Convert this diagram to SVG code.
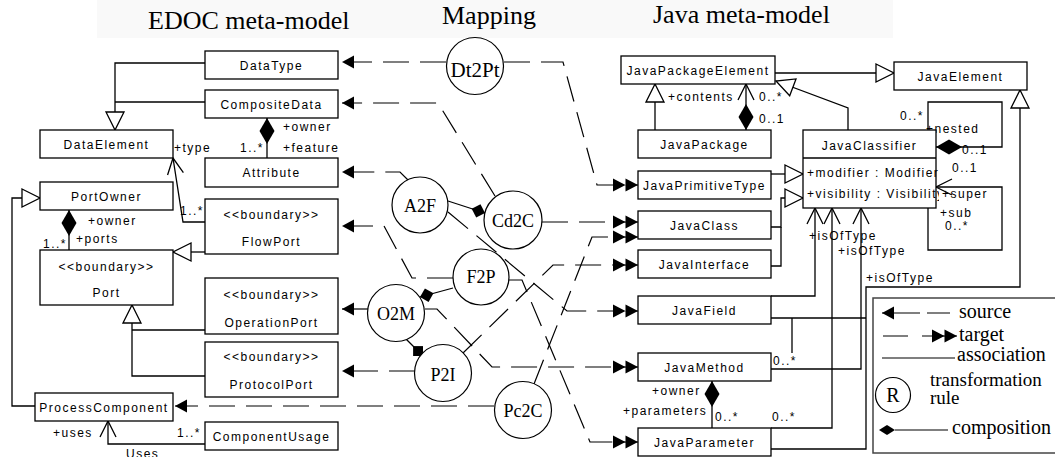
<svg xmlns="http://www.w3.org/2000/svg" width="1055" height="457" viewBox="0 0 1055 457">
<style>
.bx{fill:#fff;stroke:#000;stroke-width:1.3}
.t{font-family:"Liberation Sans",Arial,sans-serif;font-size:12px;letter-spacing:1.5px;fill:#000}
.c{text-anchor:middle}
.ttl{font-family:"Liberation Serif","Times New Roman",serif;font-size:26px;fill:#000}
.rule{fill:#fff;stroke:#000;stroke-width:1.2}
.rt{font-family:"Liberation Serif","Times New Roman",serif;font-size:18px;text-anchor:middle;fill:#000}
.uml{fill:none;stroke:#000;stroke-width:1.3}
.map{fill:none;stroke:#000;stroke-width:1.2;stroke-dasharray:26 11}
.sol{fill:none;stroke:#000;stroke-width:1.2}
.lg{font-family:"Liberation Serif","Times New Roman",serif;font-size:20px;fill:#000}
</style>
<defs>
  <marker id="gen" markerUnits="userSpaceOnUse" markerWidth="20" markerHeight="20" refX="18" refY="9" orient="auto" overflow="visible">
    <path d="M0,0 L18,9 L0,18 Z" fill="#fff" stroke="#000" stroke-width="1.3"/>
  </marker>
  <marker id="nav" markerUnits="userSpaceOnUse" markerWidth="18" markerHeight="18" refX="16" refY="8" orient="auto" overflow="visible">
    <path d="M0,0 L16,8 L0,16" fill="none" stroke="#000" stroke-width="1.3"/>
  </marker>
  <marker id="comp" markerUnits="userSpaceOnUse" markerWidth="28" markerHeight="16" refX="26" refY="7.5" orient="auto" overflow="visible">
    <path d="M0,7.5 L13,0 L26,7.5 L13,15 Z" fill="#000"/>
  </marker>
  <marker id="compS" markerUnits="userSpaceOnUse" markerWidth="28" markerHeight="16" refX="0" refY="7.5" orient="auto" overflow="visible">
    <path d="M0,7.5 L13,0 L26,7.5 L13,15 Z" fill="#000"/>
  </marker>
  <marker id="src" markerUnits="userSpaceOnUse" markerWidth="14" markerHeight="14" refX="12" refY="6.5" orient="auto" overflow="visible">
    <path d="M0,0 L12,6.5 L0,13 Z" fill="#000"/>
  </marker>
  <marker id="tgt" markerUnits="userSpaceOnUse" markerWidth="26" markerHeight="14" refX="25" refY="6.5" orient="auto" overflow="visible">
    <path d="M0,0 L12.5,6.5 L0,13 Z M12.5,0 L25,6.5 L12.5,13 Z" fill="#000"/>
  </marker>
  <marker id="own" markerUnits="userSpaceOnUse" markerWidth="16" markerHeight="16" refX="14" refY="7" orient="auto" overflow="visible">
    <path d="M0,7 L7,0 L14,7 L7,14 Z" fill="#000"/>
  </marker>
  <clipPath id="jcClip"><rect x="803" y="130" width="136" height="78"/></clipPath>
</defs>

<rect x="97" y="0" width="796" height="38" fill="#f9f9f9"/>

<!-- headings -->
<g id="titles">
  <text class="ttl" x="148" y="29">EDOC meta-model</text>
  <text class="ttl" x="442" y="24">Mapping</text>
  <text class="ttl" x="653" y="23">Java meta-model</text>
</g>

<!-- all connectors -->
<g id="connectors">
  <!-- EDOC meta-model relations -->
  <path class="uml" d="M205,63 H115 V130" marker-end="url(#gen)"/>
  <path class="uml" d="M205,102 H115"/>
  <path class="uml" d="M267,158 V118" marker-end="url(#comp)"/>
  <path class="uml" d="M205,222 H183 L173,158" marker-end="url(#nav)"/>
  <path class="uml" d="M35,406 H12 V198 H40" marker-end="url(#gen)"/>
  <path class="uml" d="M69,250 V210" marker-end="url(#comp)"/>
  <path class="uml" d="M205,252 H173" marker-end="url(#gen)"/>
  <path class="uml" d="M205,376 H132 V305" marker-end="url(#gen)"/>
  <path class="uml" d="M205,330 H132"/>
  <path class="uml" d="M205,444 H108 V421" marker-end="url(#nav)"/>

  <!-- Java meta-model relations -->
  <path class="uml" d="M655,130 V84" marker-end="url(#gen)"/>
  <path class="uml" d="M746,130 V84" marker-start="url(#compS)" marker-end="url(#nav)"/>
  <path class="uml" d="M775,73 H894" marker-end="url(#gen)"/>
  <path class="uml" d="M848,130 V108 L776,81" marker-end="url(#gen)"/>
  <path class="uml" d="M771,449 H866 V287 H1020 V90" marker-end="url(#gen)"/>
  <path class="uml" d="M771,318 H866"/>
  <path class="uml" d="M792,353 V318"/>
  <path class="uml" d="M771,296 H815 V208" marker-end="url(#nav)"/>
  <path class="uml" d="M771,428 H832 V208" marker-end="url(#nav)"/>
  <path class="uml" d="M771,369 H861 V208" marker-end="url(#nav)"/>
  <path class="uml" d="M712,428 V381" marker-end="url(#comp)"/>
  <path class="uml" d="M771,174 H803" marker-end="url(#gen)"/>
  <path class="uml" d="M771,227 H781 V198 H803" marker-end="url(#gen)"/>
  <path class="uml" d="M771,266 H781 V227"/>
  <path class="uml" d="M928,130 V102 H1002 V147 H936" marker-end="url(#comp)"/>
  <path class="uml" d="M928,208 V250 H1002 V187 H936" marker-end="url(#nav)"/>

  <!-- rule sources -->
  <path class="map" d="M446,62 H342" marker-end="url(#src)"/>
  <path class="map" d="M495,196 L438,103 H342" marker-end="url(#src)"/>
  <path class="map" d="M408,180 L400,172 H342" marker-end="url(#src)"/>
  <path class="map" d="M453,278 H412 L384,226 H342" marker-end="url(#src)"/>
  <path class="sol" d="M368,309 H342" marker-end="url(#src)"/>
  <path class="map" d="M415,371 H342" marker-end="url(#src)"/>
  <path class="map" d="M494,406 H175" marker-end="url(#src)"/>

  <!-- rule targets -->
  <path class="map" d="M504,62 H563 L597,185 H638" marker-end="url(#tgt)"/>
  <path class="map" d="M542,222 H638" marker-end="url(#tgt)"/>
  <path class="map" d="M448,212 L567,311 H638" marker-end="url(#tgt)"/>
  <path class="map" d="M509,280 H522 L590,442 H638" marker-end="url(#tgt)"/>
  <path class="map" d="M425,309 H437 L492,367 H638" marker-end="url(#tgt)"/>
  <path class="map" d="M463,353 L553,265 H638" marker-end="url(#tgt)"/>
  <path class="map" d="M534,384 L592,237 H638" marker-end="url(#tgt)"/>

  <!-- rule compositions -->
  <path class="sol" d="M448,201 L485,213" marker-end="url(#own)"/>
  <path class="sol" d="M453,288 L420,297" marker-end="url(#own)"/>
  <path class="sol" d="M406,339 L423,356" marker-end="url(#own)"/>
</g>

<!-- association end labels -->
<g id="labels" class="t">
  <text x="283" y="131">+owner</text>
  <text x="283" y="152">+feature</text>
  <text x="240" y="152">1..*</text>
  <text x="174" y="152">+type</text>
  <text x="180" y="215">1..*</text>
  <text x="88" y="225">+owner</text>
  <text x="76" y="243">+ports</text>
  <text x="43" y="248">1..*</text>
  <text x="53" y="437">+uses</text>
  <text x="177" y="437">1..*</text>
  <text x="126" y="458">Uses</text>
  <text x="668" y="101">+contents</text>
  <text x="759" y="101">0..*</text>
  <text x="759" y="123">0..1</text>
  <text x="900" y="120">0..*</text>
  <text x="926" y="133">+nested</text>
  <text x="962" y="154">0..1</text>
  <text x="952" y="172">0..1</text>
  <text x="942" y="198">+super</text>
  <text x="940" y="217">+sub</text>
  <text x="945" y="230">0..*</text>
  <text x="809" y="240">+isOfType</text>
  <text x="838" y="255">+isOfType</text>
  <text x="866" y="282">+isOfType</text>
  <text x="773" y="365">0..*</text>
  <text x="652" y="395">+owner</text>
  <text x="623" y="415">+parameters</text>
  <text x="715" y="421">0..*</text>
  <text x="772" y="421">0..*</text>
</g>

<!-- EDOC classes -->
<g id="DataType"><rect class="bx" x="205" y="51" width="133" height="28"/><text class="t c" x="271.5" y="70">DataType</text></g>
<g id="CompositeData"><rect class="bx" x="205" y="90" width="133" height="28"/><text class="t c" x="271.5" y="109">CompositeData</text></g>
<g id="DataElement"><rect class="bx" x="40" y="130" width="133" height="28"/><text class="t c" x="106.5" y="149">DataElement</text></g>
<g id="Attribute"><rect class="bx" x="205" y="158" width="133" height="29"/><text class="t c" x="271.5" y="177">Attribute</text></g>
<g id="PortOwner"><rect class="bx" x="40" y="182" width="133" height="28"/><text class="t c" x="106.5" y="201">PortOwner</text></g>
<g id="FlowPort"><rect class="bx" x="205" y="199" width="133" height="55"/><text class="t c" x="271.5" y="219">&lt;&lt;boundary&gt;&gt;</text><text class="t c" x="271.5" y="246">FlowPort</text></g>
<g id="Port"><rect class="bx" x="40" y="250" width="133" height="55"/><text class="t c" x="106.5" y="271">&lt;&lt;boundary&gt;&gt;</text><text class="t c" x="106.5" y="297">Port</text></g>
<g id="OperationPort"><rect class="bx" x="205" y="278" width="133" height="56"/><text class="t c" x="271.5" y="299">&lt;&lt;boundary&gt;&gt;</text><text class="t c" x="271.5" y="327">OperationPort</text></g>
<g id="ProtocolPort"><rect class="bx" x="205" y="342" width="133" height="55"/><text class="t c" x="271.5" y="361">&lt;&lt;boundary&gt;&gt;</text><text class="t c" x="271.5" y="389">ProtocolPort</text></g>
<g id="ProcessComponent"><rect class="bx" x="35" y="393" width="138" height="28"/><text class="t c" x="104" y="412">ProcessComponent</text></g>
<g id="ComponentUsage"><rect class="bx" x="205" y="422" width="133" height="28"/><text class="t c" x="271.5" y="441">ComponentUsage</text></g>

<!-- transformation rules -->
<g id="Dt2Pt"><circle class="rule" cx="475" cy="66" r="28.5"/><text class="rt" x="475" y="77" style="font-size:21px">Dt2Pt</text></g>
<g id="Cd2C"><circle class="rule" cx="513" cy="220" r="29"/><text class="rt" x="513" y="227">Cd2C</text></g>
<g id="A2F"><circle class="rule" cx="420" cy="205" r="28"/><text class="rt" x="420" y="212">A2F</text></g>
<g id="F2P"><circle class="rule" cx="481" cy="277" r="28"/><text class="rt" x="481" y="283">F2P</text></g>
<g id="O2M"><circle class="rule" cx="396" cy="313" r="28.5"/><text class="rt" x="396" y="320">O2M</text></g>
<g id="P2I"><circle class="rule" cx="443" cy="373" r="28.5"/><text class="rt" x="443" y="381">P2I</text></g>
<g id="Pc2C"><circle class="rule" cx="523" cy="410" r="28.5"/><text class="rt" x="523" y="417">Pc2C</text></g>

<!-- Java classes -->
<g id="JavaPackageElement"><rect class="bx" x="621" y="56" width="154" height="28"/><text class="t c" x="698" y="75">JavaPackageElement</text></g>
<g id="JavaPackage"><rect class="bx" x="638" y="130" width="133" height="28"/><text class="t c" x="704.5" y="149">JavaPackage</text></g>
<g id="JavaElement"><rect class="bx" x="894" y="62" width="133" height="28"/><text class="t c" x="960.5" y="81">JavaElement</text></g>
<g id="JavaClassifier">
  <rect class="bx" x="803" y="130" width="133" height="78"/>
  <line class="uml" x1="803" y1="158" x2="936" y2="158"/>
  <text class="t c" x="869.5" y="150">JavaClassifier</text>
  <g clip-path="url(#jcClip)">
    <text class="t" x="807" y="177">+modifier : Modifier</text>
    <text class="t" x="807" y="198">+visibility : Visibility</text>
  </g>
</g>
<g id="JavaPrimitiveType"><rect class="bx" x="638" y="171" width="133" height="28"/><text class="t c" x="704.5" y="190">JavaPrimitiveType</text></g>
<g id="JavaClass"><rect class="bx" x="638" y="211" width="133" height="28"/><text class="t c" x="704.5" y="230">JavaClass</text></g>
<g id="JavaInterface"><rect class="bx" x="638" y="250" width="133" height="28"/><text class="t c" x="704.5" y="269">JavaInterface</text></g>
<g id="JavaField"><rect class="bx" x="638" y="296" width="133" height="28"/><text class="t c" x="704.5" y="315">JavaField</text></g>
<g id="JavaMethod"><rect class="bx" x="638" y="353" width="133" height="28"/><text class="t c" x="704.5" y="372">JavaMethod</text></g>
<g id="JavaParameter"><rect class="bx" x="638" y="428" width="133" height="28"/><text class="t c" x="704.5" y="447">JavaParameter</text></g>

<!-- key -->
<g id="legend">
  <rect x="873" y="298" width="200" height="155" fill="#fff" stroke="#444" stroke-width="1.5"/>
  <path class="sol" d="M950,313 H927 M920,313 H882" marker-end="url(#src)"/>
  <text class="lg" x="959" y="318">source</text>
  <path class="sol" d="M883,336 H908 M922,336 H957" marker-end="url(#tgt)"/>
  <text class="lg" x="959" y="341">target</text>
  <line class="sol" x1="882" y1="358" x2="955" y2="358"/>
  <text class="lg" x="957" y="361">association</text>
  <circle class="rule" cx="893" cy="395" r="17.5"/>
  <text class="lg" x="893" y="402" text-anchor="middle">R</text>
  <text class="lg" x="930" y="386" style="font-size:19px">transformation</text>
  <text class="lg" x="930" y="404" style="font-size:19px">rule</text>
  <line class="sol" x1="895" y1="430" x2="948" y2="430"/>
  <polygon points="879,430 887,425 895,430 887,435" fill="#000"/>
  <text class="lg" x="952" y="434">composition</text>
</g>
</svg>
